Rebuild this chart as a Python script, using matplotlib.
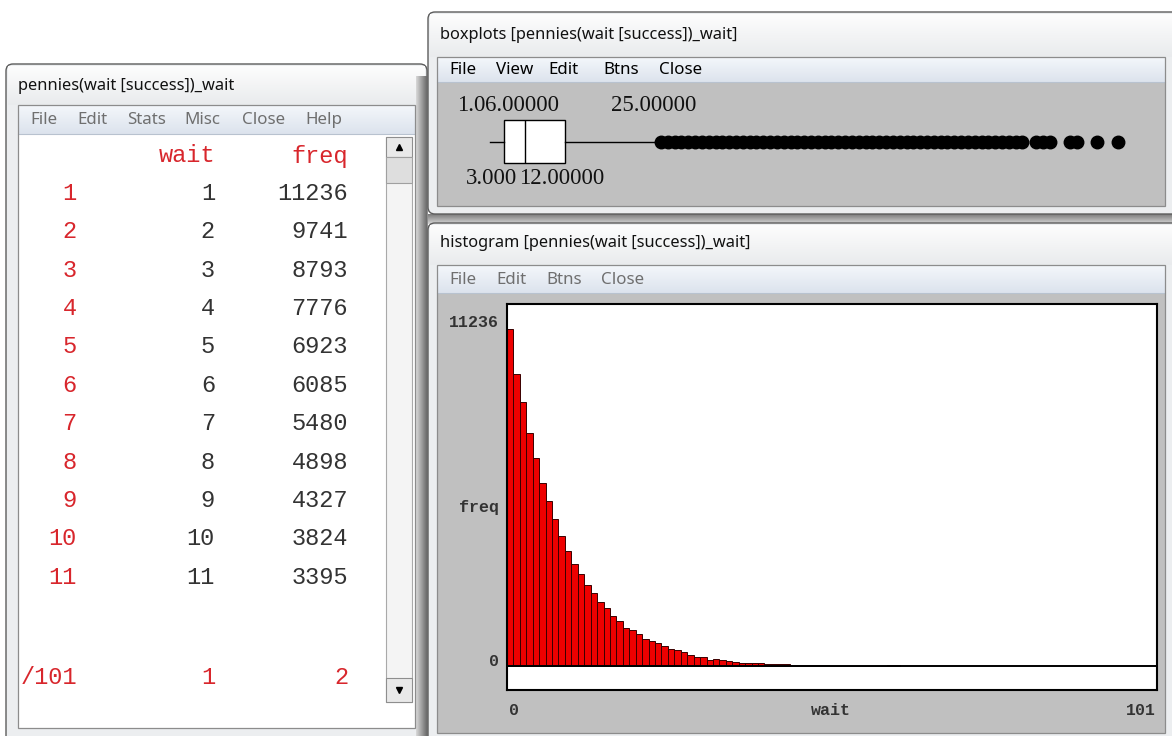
import numpy as np
import matplotlib
matplotlib.use("Agg")
import matplotlib.pyplot as plt
from matplotlib.patches import Rectangle, FancyBboxPatch
import matplotlib.transforms as mtransforms

# ---------------- data ----------------
table_rows = ["1", "2", "3", "4", "5", "6", "7", "8", "9", "10", "11"]
table_wait = [1, 2, 3, 4, 5, 6, 7, 8, 9, 10, 11]
table_freq = [11236, 9741, 8793, 7776, 6923, 6085, 5480, 4898, 4327, 3824, 3395]
last_row = ["/101", "1", "2"]
table_header = ["wait", "freq"]

hist_freq = [11236, 9741, 8793, 7776, 6923, 6085, 5480, 4898, 4327, 3824, 3395,
             3080, 2690, 2430, 2140, 1945, 1670, 1490, 1250, 1190, 1050,
             900, 833, 750, 667, 570, 525, 456, 360, 310, 300,
             200, 235, 190, 180, 135, 115, 110, 105, 85, 80,
             75, 70, 60, 30, 28, 25, 22, 20, 18, 15,
             14, 12, 10, 9, 8, 6, 5, 0, 45, 40]
hist_wait = np.arange(1, len(hist_freq) + 1)
hist_xmax = 101

box_whislo, box_q1, box_med, box_q3, box_whishi = 1, 3, 6, 12, 25
box_fliers = [26, 27, 28, 29, 30, 31, 32, 33, 34, 35, 36, 37, 38, 39, 40,
              41, 42, 43, 44, 45, 46, 47, 48, 49, 50, 51, 52, 53, 54, 55,
              56, 57, 58, 59, 60, 61, 62, 63, 64, 65, 66, 67, 68, 69, 70,
              71, 72, 73, 74, 75, 76, 77, 78, 79, 81, 82, 83, 86, 87, 90, 93]

# ---------------- figure ----------------
W, H = 1172, 736
fig = plt.figure(figsize=(W / 100, H / 100), dpi=100)
fig.patch.set_facecolor("white")
bg = fig.add_axes([0, 0, 1, 1])
bg.set_xlim(0, W)
bg.set_ylim(H, 0)
bg.axis("off")

UI = "Noto Sans"
MONO = "Liberation Mono"
SERIF = "Liberation Serif"
GRAY_BG = "#c0c0c0"
RED_TXT = "#d8262c"


def px_axes(x0, y0, x1, y1, **kw):
    return fig.add_axes([x0 / W, (H - y1) / H, (x1 - x0) / W, (y1 - y0) / H], **kw)


def rect(x0, y0, x1, y1, fc, ec="none", lw=1.0, z=1, r=0):
    if r:
        p = FancyBboxPatch((x0, y0), x1 - x0, y1 - y0,
                           boxstyle=f"round,pad=0,rounding_size={r}",
                           fc=fc, ec=ec, lw=lw, zorder=z)
    else:
        p = Rectangle((x0, y0), x1 - x0, y1 - y0, fc=fc, ec=ec, lw=lw, zorder=z)
    bg.add_patch(p)
    return p


def grad(x0, y0, x1, y1, c0, c1, z=1.5, horizontal=False):
    a = np.array(matplotlib.colors.to_rgb(c0))
    b = np.array(matplotlib.colors.to_rgb(c1))
    t = np.linspace(0, 1, 64)[:, None]
    img = a[None, :] * (1 - t) + b[None, :] * t
    img = img[None, :, :] if horizontal else img[:, None, :]
    bg.imshow(img, extent=(x0, x1, y1, y0), aspect="auto", zorder=z,
              interpolation="bilinear")


def window(x0, y0, x1, y1, title, ty, menu, mx, my0, my1, mcolor, cx0, cx1, cy1, cfc):
    rect(x0, y0, x1, y1, "#eceef0", ec="#5c5c5c", lw=1.0, z=1, r=7)
    grad(x0 + 2, y0 + 2, x1 - 2, my0, "#fdfdfd", "#e9ebed", z=1.2)
    bg.text(x0 + 12, ty, title, family=UI, fontsize=11.8, color="#111111",
            va="center", ha="left", zorder=3)
    grad(cx0, my0, cx1, my1, "#f4f7fb", "#dce3ed", z=1.6)
    bg.plot([cx0, cx1], [my1, my1], color="#b8c2cf", lw=0.8, zorder=2)
    for (label, x) in zip(menu, mx):
        bg.text(x, (my0 + my1) / 2 + 1, label, family=UI, fontsize=12.2,
                color=mcolor, va="center", ha="left", zorder=3)
    rect(cx0, my1, cx1, cy1, cfc, z=1.7)
    rect(cx0, my0, cx1, cy1, "none", ec="#8c8c8c", lw=0.9, z=2.5)


# ---- left table window ----
window(6, 64, 427, 760, "pennies(wait [success])_wait", 86,
       ["File", "Edit", "Stats", "Misc", "Close", "Help"],
       [30, 77, 127, 184, 242, 305], 105, 134, "#6f6f6f", 18, 415, 728, "white")
grad(416, 76, 426.5, 736, "#d9d9d9", "#6a6a6a", z=1.3, horizontal=True)

# shadow between the two right-hand windows
grad(428, 214, 1172, 224, "#7a7a7a", "#d8d8d8", z=0.9)

# scrollbar
rect(386, 137, 412, 702, "#f4f4f4", ec="#a9a9a9", lw=0.8, z=2)
rect(386, 137, 412, 157, "#e9e9e9", ec="#8e8e8e", lw=0.8, z=2.1)
rect(386, 157, 412, 183, "#dedede", ec="#a0a0a0", lw=0.8, z=2.1)
rect(386, 678, 412, 702, "#e9e9e9", ec="#8e8e8e", lw=0.8, z=2.1)
bg.plot([399], [147], marker="^", ms=5, color="black", zorder=3)
bg.plot([399], [690], marker="v", ms=5, color="black", zorder=3)

# table text
col_right = [76.7, 215, 348]
row_y0, row_dy = 193.3, 38.4
tkw = dict(family=MONO, fontsize=17, ha="right", va="center", zorder=3)
bg.text(col_right[1], 156, table_header[0], color=RED_TXT, **tkw)
bg.text(col_right[2], 156, table_header[1], color=RED_TXT, **tkw)
for i, (r, w_, f_) in enumerate(zip(table_rows, table_wait, table_freq)):
    y = row_y0 + i * row_dy
    bg.text(col_right[0], y, r, color=RED_TXT, **tkw)
    bg.text(col_right[1], y, str(w_), color="#333333", **tkw)
    bg.text(col_right[2], y, str(f_), color="#333333", **tkw)
for c, s in zip(col_right, last_row):
    bg.text(c, 677, s, color=RED_TXT, **tkw)

# ---- boxplot window ----
window(428, 12, 1190, 214, "boxplots [pennies(wait [success])_wait]", 35,
       ["File", "View", "Edit", "Btns", "Close"],
       [449, 496, 548, 603, 659], 57, 82, "#000000", 437, 1165, 206, GRAY_BG)

# ---- histogram window ----
window(428, 223, 1190, 760, "histogram [pennies(wait [success])_wait]", 243,
       ["File", "Edit", "Btns", "Close"],
       [449, 496, 546, 601], 265, 293, "#6f6f6f", 437, 1165, 733, GRAY_BG)

# ---------------- histogram axes ----------------
hax = px_axes(507, 304, 1157, 690)
hax.set_facecolor("white")
hax.bar(hist_wait - 1, hist_freq, width=1, align="edge", color="#ee0000",
        edgecolor="#3a0000", linewidth=0.7)
hax.axhline(0, color="black", lw=1.4)
hax.set_xlim(0, hist_xmax)
top = max(hist_freq)
hax.set_ylim(-0.0712 * top, 1.0733 * top)
hax.set_xticks([])
hax.set_yticks([])
for s in hax.spines.values():
    s.set_linewidth(1.5)
    s.set_color("black")

ytr = hax.get_yaxis_transform()
xtr = hax.get_xaxis_transform()
lab_kw = dict(family=MONO, fontsize=12, color="#333333", fontweight="bold", clip_on=False)
hax.text(-0.013, top, str(top), ha="right", va="center",
         transform=mtransforms.offset_copy(ytr, fig=fig, x=0, y=6, units="dots"), **lab_kw)
hax.text(-0.013, 0, "0", ha="right", va="center",
         transform=mtransforms.offset_copy(ytr, fig=fig, x=0, y=4, units="dots"), **lab_kw)
hax.text(-0.013, 0.474, "freq", ha="right", va="center", transform=hax.transAxes, **lab_kw)
hax.text(0, -0.052, "0", ha="left", va="center",
         transform=mtransforms.offset_copy(xtr, fig=fig, x=2, y=0, units="dots"), **lab_kw)
hax.text(0.498, -0.052, "wait", ha="center", va="center", transform=hax.transAxes, **lab_kw)
hax.text(hist_xmax, -0.052, str(hist_xmax), ha="right", va="center",
         transform=mtransforms.offset_copy(xtr, fig=fig, x=-1, y=0, units="dots"), **lab_kw)

# ---------------- boxplot axes ----------------
bax = px_axes(437, 82, 1165, 206)
bax.axis("off")
bax.set_xlim(-6.84, 99.9)
bax.set_ylim(0, 1)
stats = [dict(whislo=box_whislo, q1=box_q1, med=box_med, q3=box_q3,
              whishi=box_whishi, fliers=box_fliers)]
bax.bxp(stats, positions=[0.518], widths=0.347, orientation="horizontal",
        showcaps=False, patch_artist=True,
        boxprops=dict(facecolor="white", edgecolor="black", linewidth=1.0),
        medianprops=dict(color="black", linewidth=1.0),
        whiskerprops=dict(color="black", linewidth=1.0),
        flierprops=dict(marker="o", markerfacecolor="black", markeredgecolor="black",
                        markersize=9, linestyle="none"))

bkw = dict(family=SERIF, fontsize=16.4, color="#111111", va="center")
t_med = bax.text(box_med, 0.813, f"{box_med:.5f}", ha="center",
                 transform=mtransforms.offset_copy(bax.transData, fig=fig, x=-3, y=0, units="dots"),
                 **bkw)
bax.text(box_whishi, 0.813, f"{box_whishi:.5f}", ha="center", **bkw)
t_q3 = bax.text(box_q3, 0.22, f"{box_q3:.5f}", ha="center",
                transform=mtransforms.offset_copy(bax.transData, fig=fig, x=-4, y=0, units="dots"),
                **bkw)

# the min and Q1 labels are partly hidden by the neighbouring labels in the
# original window: show their visible part just left of the neighbour
fig.canvas.draw()
rdr = fig.canvas.get_renderer()
bb_med = t_med.get_window_extent(rdr)
bb_q3 = t_q3.get_window_extent(rdr)
bg.text(bb_med.x0 + 1, H - (bb_med.y0 + bb_med.y1) / 2, f"{box_whislo:.5f}"[:3],
        ha="right", zorder=4, **bkw)
bg.text(bb_q3.x0 - 2, H - (bb_q3.y0 + bb_q3.y1) / 2, f"{box_q1:.5f}"[:5],
        ha="right", zorder=4, **bkw)

fig.savefig("out.png", dpi=100, facecolor="white")
